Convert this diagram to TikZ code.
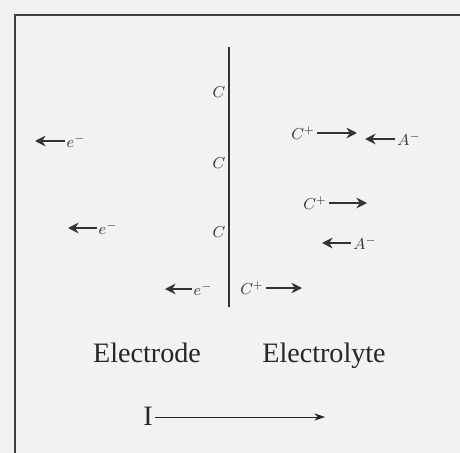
\documentclass[tikz,border=0pt]{standalone}
\usepackage{fontspec}
\setmainfont{Liberation Serif}
\usetikzlibrary{arrows.meta, positioning}
\definecolor{paper}{RGB}{243,241,243}
\tikzset{
  boxline/.style={draw=black!75, line width=1.2pt},
  wall/.style={draw=black!80, line width=1.4pt},
  charge/.style={font=\small, inner sep=1pt, text=black!80},
  drift/.style={line width=1.6pt, black!80, -{Stealth[length=6pt,width=6pt]}},
  sidename/.style={font=\fontsize{16}{19}\selectfont, text=black!85, inner sep=1pt, anchor=base},
  current/.style={thin, black!85, -{Stealth[length=6pt,width=4pt]}}
}

\begin{document}
\begin{tikzpicture}[x=0.02cm, y=-0.02cm]
% page and frame (cut at right and bottom)
\clip (0,0) rectangle (460,453);
\fill[paper] (0,0) rectangle (460,453);
\draw[boxline] (15,15) rectangle (490,490);

% interface
\coordinate (top) at (229,47);
\coordinate (bot) at (229,307);
\draw[wall] (top) -- (bot);

% charges on the electrode side of the interface
\node[charge] (c1) at (219,92) {$C$};
\node[charge] (c2) at (219,163) {$C$};
\node[charge] (c3) at (219,232) {$C$};

% electrons
\node[charge] (e1) at (76,141) {$e^-$};
\node[charge] (e2) at (108,228) {$e^-$};
\node[charge] (e3) at (203,289) {$e^-$};
\coordinate (e1end) at (35,141);
\coordinate (e2end) at (68,228);
\coordinate (e3end) at (165,289);
\draw[drift] (e1) -- (e1end);
\draw[drift] (e2) -- (e2end);
\draw[drift] (e3) -- (e3end);

% cations
\node[charge] (k1) at (303,133) {$C^+$};
\node[charge] (k2) at (315,203) {$C^+$};
\node[charge] (k3) at (252,288) {$C^+$};
\coordinate (k1end) at (357,133);
\coordinate (k2end) at (367,203);
\coordinate (k3end) at (302,288);
\draw[drift] (k1) -- (k1end);
\draw[drift] (k2) -- (k2end);
\draw[drift] (k3) -- (k3end);

% anions
\node[charge] (a1) at (409,139) {$A^-$};
\node[charge] (a2) at (365,243) {$A^-$};
\coordinate (a1end) at (365,139);
\coordinate (a2end) at (322,243);
\draw[drift] (a1) -- (a1end);
\draw[drift] (a2) -- (a2end);

% sides and current
\node[sidename] (electrode) at (147,362) {Electrode};
\node[sidename] (electrolyte) at (324,362) {Electrolyte};
\node[sidename] (cur) at (148,425) {I};
\coordinate (curend) at (325,417);
\draw[current] (cur.east |- curend) -- (curend);
\end{tikzpicture}
\end{document}
